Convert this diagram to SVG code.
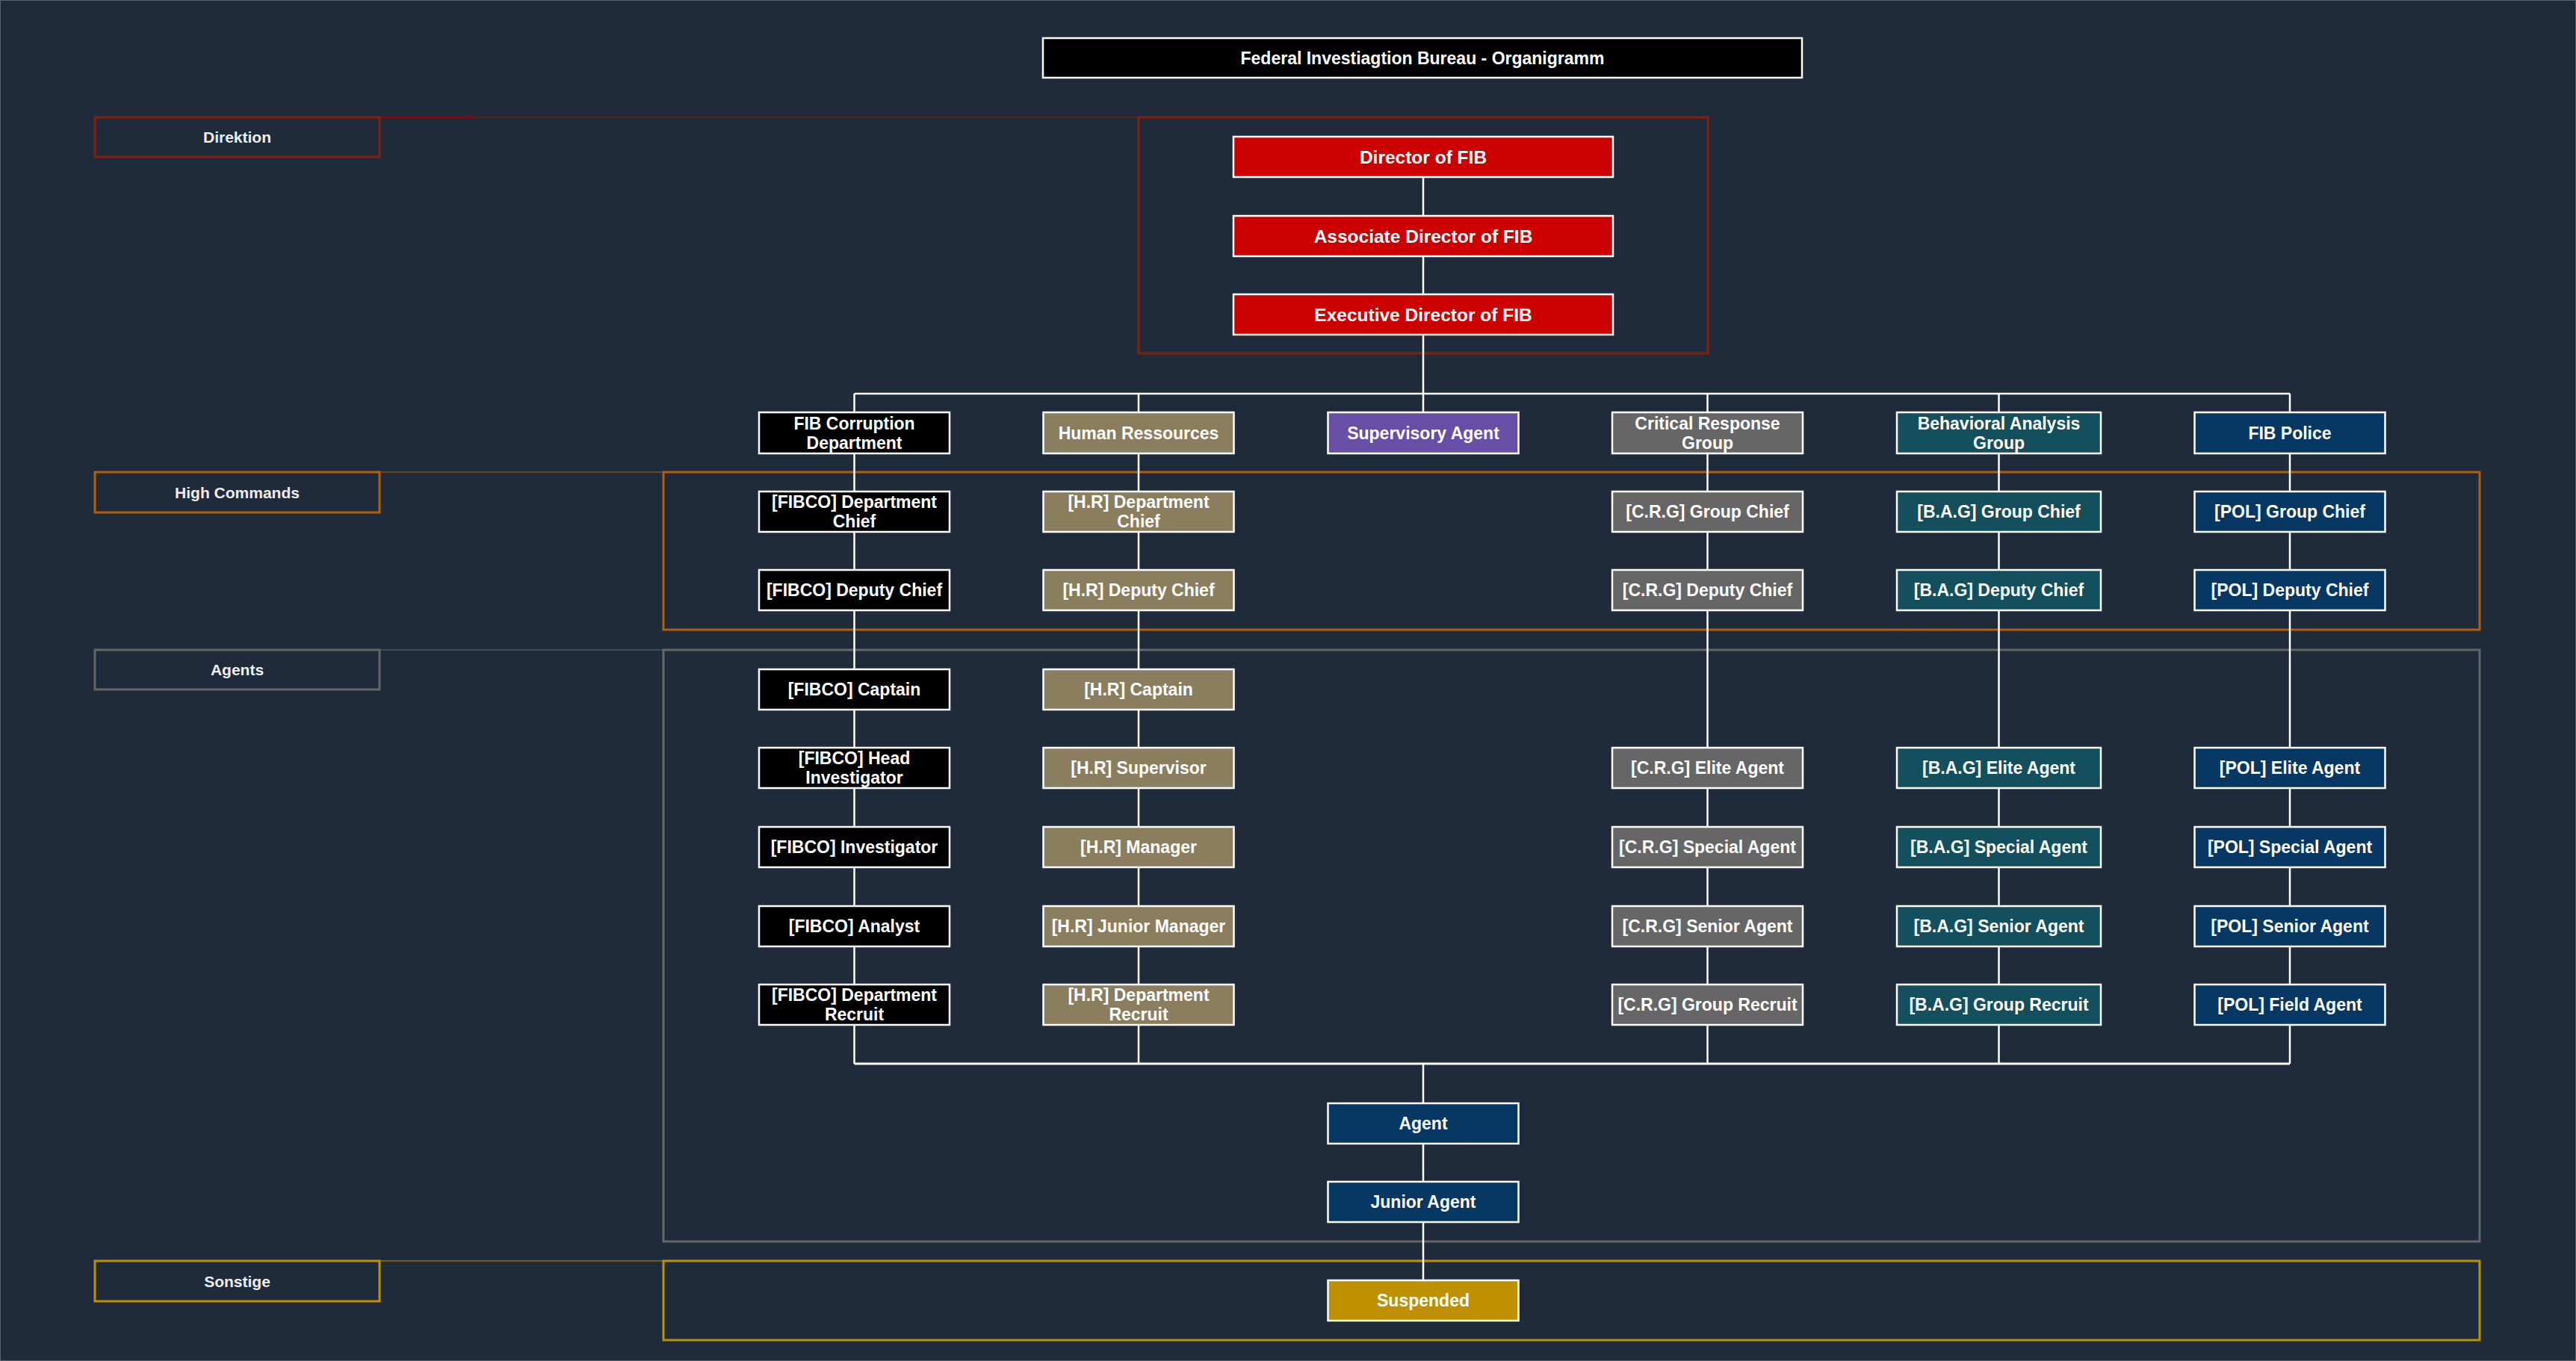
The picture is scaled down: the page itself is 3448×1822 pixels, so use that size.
<svg xmlns="http://www.w3.org/2000/svg" width="3448" height="1822" viewBox="0 0 3448 1822">
<defs>
<style>
.bg{fill:#1f2a3b}
.n rect{stroke:#ffffff;stroke-width:2.5}
.n text,.t{font-family:"Liberation Sans",Arial,sans-serif;font-weight:bold;font-size:23px;fill:#ffffff;text-anchor:middle}
.big{font-size:24.5px!important}
.lab rect{fill:#1f2a3b;stroke-width:3}
.lab text{font-family:"Liberation Sans",Arial,sans-serif;font-weight:bold;font-size:21px;fill:#eeeeee;text-anchor:middle}
.grp{fill:none;stroke-width:3}
.ext{stroke-width:1.2}
.c line{stroke:#ffffff;stroke-width:2.5}
.k{fill:#000000}.red{fill:#cc0000}.hr{fill:#8a7e5e}.sup{fill:#674ea7}.crg{fill:#666666}.bag{fill:#134f5c}.pol{fill:#073763}.sus{fill:#bf9000}
.sd{stroke:#85200c}.sh{stroke:#b45f06}.sa{stroke:#666666}.ss{stroke:#bf9000}
</style>
</defs>
<rect class="bg" x="0" y="0" width="3448" height="1822"/>
<rect x="0.5" y="0.5" width="3447" height="1821" fill="none" stroke="#5a6270" stroke-width="1"/>

<g id="lanes">
 <g id="lane-direktion">
  <line x1="508" y1="157" x2="1524" y2="157" class="sd ext"/>
  <line x1="508" y1="157" x2="636" y2="157" stroke="#990000" stroke-width="2.5"/>
  <rect class="grp sd" x="1524" y="157" width="762" height="316"/>
  <g class="lab"><rect class="sd" x="127" y="157" width="381" height="53"/><text x="317.5" y="191">Direktion</text></g>
 </g>
 <g id="lane-high">
  <line x1="508" y1="632" x2="888" y2="632" class="sh ext"/>
  <rect class="grp sh" x="888" y="632" width="2431" height="211"/>
  <g class="lab"><rect class="sh" x="127" y="632" width="381" height="54"/><text x="317.5" y="666.5">High Commands</text></g>
 </g>
 <g id="lane-agents">
  <line x1="508" y1="870" x2="888" y2="870" class="sa ext"/>
  <rect class="grp sa" x="888" y="870" width="2431" height="792"/>
  <g class="lab"><rect class="sa" x="127" y="870" width="381" height="53"/><text x="317.5" y="904">Agents</text></g>
 </g>
 <g id="lane-sonstige">
  <line x1="508" y1="1688" x2="888" y2="1688" class="ss ext"/>
  <rect class="grp ss" x="888" y="1688" width="2431" height="106"/>
  <g class="lab"><rect class="ss" x="127" y="1688" width="381" height="54"/><text x="317.5" y="1722.5">Sonstige</text></g>
 </g>
</g>

<g id="connectors" class="c">
 <line x1="1905" y1="237" x2="1905" y2="289"/>
 <line x1="1905" y1="343" x2="1905" y2="394"/>
 <line x1="1905" y1="448" x2="1905" y2="552"/>
 <line x1="1143.5" y1="527" x2="3065" y2="527"/>
 <line x1="1143.5" y1="527" x2="1143.5" y2="552"/>
 <line x1="1524" y1="527" x2="1524" y2="552"/>
 <line x1="2285.5" y1="527" x2="2285.5" y2="552"/>
 <line x1="2675.5" y1="527" x2="2675.5" y2="552"/>
 <line x1="3065" y1="527" x2="3065" y2="552"/>
 <!-- FIBCO -->
 <line x1="1143.5" y1="607" x2="1143.5" y2="658"/>
 <line x1="1143.5" y1="712" x2="1143.5" y2="763"/>
 <line x1="1143.5" y1="817" x2="1143.5" y2="896"/>
 <line x1="1143.5" y1="950" x2="1143.5" y2="1001"/>
 <line x1="1143.5" y1="1055" x2="1143.5" y2="1107"/>
 <line x1="1143.5" y1="1161" x2="1143.5" y2="1213"/>
 <line x1="1143.5" y1="1267" x2="1143.5" y2="1318"/>
 <line x1="1143.5" y1="1372" x2="1143.5" y2="1424"/>
 <!-- HR -->
 <line x1="1524" y1="607" x2="1524" y2="658"/>
 <line x1="1524" y1="712" x2="1524" y2="763"/>
 <line x1="1524" y1="817" x2="1524" y2="896"/>
 <line x1="1524" y1="950" x2="1524" y2="1001"/>
 <line x1="1524" y1="1055" x2="1524" y2="1107"/>
 <line x1="1524" y1="1161" x2="1524" y2="1213"/>
 <line x1="1524" y1="1267" x2="1524" y2="1318"/>
 <line x1="1524" y1="1372" x2="1524" y2="1424"/>
 <!-- CRG -->
 <line x1="2285.5" y1="607" x2="2285.5" y2="658"/>
 <line x1="2285.5" y1="712" x2="2285.5" y2="763"/>
 <line x1="2285.5" y1="817" x2="2285.5" y2="1001"/>
 <line x1="2285.5" y1="1055" x2="2285.5" y2="1107"/>
 <line x1="2285.5" y1="1161" x2="2285.5" y2="1213"/>
 <line x1="2285.5" y1="1267" x2="2285.5" y2="1318"/>
 <line x1="2285.5" y1="1372" x2="2285.5" y2="1424"/>
 <!-- BAG -->
 <line x1="2675.5" y1="607" x2="2675.5" y2="658"/>
 <line x1="2675.5" y1="712" x2="2675.5" y2="763"/>
 <line x1="2675.5" y1="817" x2="2675.5" y2="1001"/>
 <line x1="2675.5" y1="1055" x2="2675.5" y2="1107"/>
 <line x1="2675.5" y1="1161" x2="2675.5" y2="1213"/>
 <line x1="2675.5" y1="1267" x2="2675.5" y2="1318"/>
 <line x1="2675.5" y1="1372" x2="2675.5" y2="1424"/>
 <!-- POL -->
 <line x1="3065" y1="607" x2="3065" y2="658"/>
 <line x1="3065" y1="712" x2="3065" y2="763"/>
 <line x1="3065" y1="817" x2="3065" y2="1001"/>
 <line x1="3065" y1="1055" x2="3065" y2="1107"/>
 <line x1="3065" y1="1161" x2="3065" y2="1213"/>
 <line x1="3065" y1="1267" x2="3065" y2="1318"/>
 <line x1="3065" y1="1372" x2="3065" y2="1424"/>
 <!-- bottom -->
 <line x1="1143.5" y1="1424" x2="3065" y2="1424" style="stroke-width:3"/>
 <line x1="1905" y1="1424" x2="1905" y2="1477"/>
 <line x1="1905" y1="1531" x2="1905" y2="1582"/>
 <line x1="1905" y1="1636" x2="1905" y2="1714"/>
</g>

<g id="nodes">
 <g id="title" class="n"><rect class="k" x="1396" y="51" width="1016" height="53"/><text x="1904" y="85.5">Federal Investiagtion Bureau - Organigramm</text></g>

 <g id="director" class="n"><rect class="red" x="1651" y="183" width="508" height="54"/><text class="big" x="1905" y="218.8">Director of FIB</text></g>
 <g id="assoc-director" class="n"><rect class="red" x="1651" y="289" width="508" height="54"/><text class="big" x="1905" y="324.8">Associate Director of FIB</text></g>
 <g id="exec-director" class="n"><rect class="red" x="1651" y="394" width="508" height="54"/><text class="big" x="1905" y="429.8">Executive Director of FIB</text></g>

 <!-- FIBCO -->
 <g id="fibco" class="n"><rect class="k" x="1016" y="552" width="255" height="55"/><text x="1143.5" y="574.8">FIB Corruption<tspan x="1143.5" y="600.6">Department</tspan></text></g>
 <g id="fibco-chief" class="n"><rect class="k" x="1016" y="658" width="255" height="54"/><text x="1143.5" y="680.3">[FIBCO] Department<tspan x="1143.5" y="706.1">Chief</tspan></text></g>
 <g id="fibco-deputy" class="n"><rect class="k" x="1016" y="763" width="255" height="54"/><text x="1143.5" y="798.2">[FIBCO] Deputy Chief</text></g>
 <g id="fibco-captain" class="n"><rect class="k" x="1016" y="896" width="255" height="54"/><text x="1143.5" y="931.2">[FIBCO] Captain</text></g>
 <g id="fibco-head" class="n"><rect class="k" x="1016" y="1001" width="255" height="54"/><text x="1143.5" y="1023.3">[FIBCO] Head<tspan x="1143.5" y="1049.1">Investigator</tspan></text></g>
 <g id="fibco-investigator" class="n"><rect class="k" x="1016" y="1107" width="255" height="54"/><text x="1143.5" y="1142.2">[FIBCO] Investigator</text></g>
 <g id="fibco-analyst" class="n"><rect class="k" x="1016" y="1213" width="255" height="54"/><text x="1143.5" y="1248.2">[FIBCO] Analyst</text></g>
 <g id="fibco-recruit" class="n"><rect class="k" x="1016" y="1318" width="255" height="54"/><text x="1143.5" y="1340.3">[FIBCO] Department<tspan x="1143.5" y="1366.1">Recruit</tspan></text></g>

 <!-- HR -->
 <g id="hr" class="n"><rect class="hr" x="1396.5" y="552" width="255" height="55"/><text x="1524" y="587.7">Human Ressources</text></g>
 <g id="hr-chief" class="n"><rect class="hr" x="1396.5" y="658" width="255" height="54"/><text x="1524" y="680.3">[H.R] Department<tspan x="1524" y="706.1">Chief</tspan></text></g>
 <g id="hr-deputy" class="n"><rect class="hr" x="1396.5" y="763" width="255" height="54"/><text x="1524" y="798.2">[H.R] Deputy Chief</text></g>
 <g id="hr-captain" class="n"><rect class="hr" x="1396.5" y="896" width="255" height="54"/><text x="1524" y="931.2">[H.R] Captain</text></g>
 <g id="hr-supervisor" class="n"><rect class="hr" x="1396.5" y="1001" width="255" height="54"/><text x="1524" y="1036.2">[H.R] Supervisor</text></g>
 <g id="hr-manager" class="n"><rect class="hr" x="1396.5" y="1107" width="255" height="54"/><text x="1524" y="1142.2">[H.R] Manager</text></g>
 <g id="hr-junior-manager" class="n"><rect class="hr" x="1396.5" y="1213" width="255" height="54"/><text x="1524" y="1248.2">[H.R] Junior Manager</text></g>
 <g id="hr-recruit" class="n"><rect class="hr" x="1396.5" y="1318" width="255" height="54"/><text x="1524" y="1340.3">[H.R] Department<tspan x="1524" y="1366.1">Recruit</tspan></text></g>

 <!-- Supervisory -->
 <g id="supervisory" class="n"><rect class="sup" x="1777.5" y="552" width="255" height="55"/><text x="1905" y="587.7">Supervisory Agent</text></g>

 <!-- CRG -->
 <g id="crg" class="n"><rect class="crg" x="2158" y="552" width="255" height="55"/><text x="2285.5" y="574.8">Critical Response<tspan x="2285.5" y="600.6">Group</tspan></text></g>
 <g id="crg-chief" class="n"><rect class="crg" x="2158" y="658" width="255" height="54"/><text x="2285.5" y="693.2">[C.R.G] Group Chief</text></g>
 <g id="crg-deputy" class="n"><rect class="crg" x="2158" y="763" width="255" height="54"/><text x="2285.5" y="798.2">[C.R.G] Deputy Chief</text></g>
 <g id="crg-elite" class="n"><rect class="crg" x="2158" y="1001" width="255" height="54"/><text x="2285.5" y="1036.2">[C.R.G] Elite Agent</text></g>
 <g id="crg-special" class="n"><rect class="crg" x="2158" y="1107" width="255" height="54"/><text x="2285.5" y="1142.2">[C.R.G] Special Agent</text></g>
 <g id="crg-senior" class="n"><rect class="crg" x="2158" y="1213" width="255" height="54"/><text x="2285.5" y="1248.2">[C.R.G] Senior Agent</text></g>
 <g id="crg-recruit" class="n"><rect class="crg" x="2158" y="1318" width="255" height="54"/><text x="2285.5" y="1353.2">[C.R.G] Group Recruit</text></g>

 <!-- BAG -->
 <g id="bag" class="n"><rect class="bag" x="2539" y="552" width="273" height="55"/><text x="2675.5" y="574.8">Behavioral Analysis<tspan x="2675.5" y="600.6">Group</tspan></text></g>
 <g id="bag-chief" class="n"><rect class="bag" x="2539" y="658" width="273" height="54"/><text x="2675.5" y="693.2">[B.A.G] Group Chief</text></g>
 <g id="bag-deputy" class="n"><rect class="bag" x="2539" y="763" width="273" height="54"/><text x="2675.5" y="798.2">[B.A.G] Deputy Chief</text></g>
 <g id="bag-elite" class="n"><rect class="bag" x="2539" y="1001" width="273" height="54"/><text x="2675.5" y="1036.2">[B.A.G] Elite Agent</text></g>
 <g id="bag-special" class="n"><rect class="bag" x="2539" y="1107" width="273" height="54"/><text x="2675.5" y="1142.2">[B.A.G] Special Agent</text></g>
 <g id="bag-senior" class="n"><rect class="bag" x="2539" y="1213" width="273" height="54"/><text x="2675.5" y="1248.2">[B.A.G] Senior Agent</text></g>
 <g id="bag-recruit" class="n"><rect class="bag" x="2539" y="1318" width="273" height="54"/><text x="2675.5" y="1353.2">[B.A.G] Group Recruit</text></g>

 <!-- POL -->
 <g id="pol" class="n"><rect class="pol" x="2937.5" y="552" width="255" height="55"/><text x="3065" y="587.7">FIB Police</text></g>
 <g id="pol-chief" class="n"><rect class="pol" x="2937.5" y="658" width="255" height="54"/><text x="3065" y="693.2">[POL] Group Chief</text></g>
 <g id="pol-deputy" class="n"><rect class="pol" x="2937.5" y="763" width="255" height="54"/><text x="3065" y="798.2">[POL] Deputy Chief</text></g>
 <g id="pol-elite" class="n"><rect class="pol" x="2937.5" y="1001" width="255" height="54"/><text x="3065" y="1036.2">[POL] Elite Agent</text></g>
 <g id="pol-special" class="n"><rect class="pol" x="2937.5" y="1107" width="255" height="54"/><text x="3065" y="1142.2">[POL] Special Agent</text></g>
 <g id="pol-senior" class="n"><rect class="pol" x="2937.5" y="1213" width="255" height="54"/><text x="3065" y="1248.2">[POL] Senior Agent</text></g>
 <g id="pol-field" class="n"><rect class="pol" x="2937.5" y="1318" width="255" height="54"/><text x="3065" y="1353.2">[POL] Field Agent</text></g>

 <!-- bottom -->
 <g id="agent" class="n"><rect class="pol" x="1777.5" y="1477" width="255" height="54"/><text x="1905" y="1512.2">Agent</text></g>
 <g id="junior-agent" class="n"><rect class="pol" x="1777.5" y="1582" width="255" height="54"/><text x="1905" y="1617.2">Junior Agent</text></g>
 <g id="suspended" class="n"><rect class="sus" x="1777.5" y="1714" width="255" height="54"/><text x="1905" y="1749.2">Suspended</text></g>
</g>
</svg>
